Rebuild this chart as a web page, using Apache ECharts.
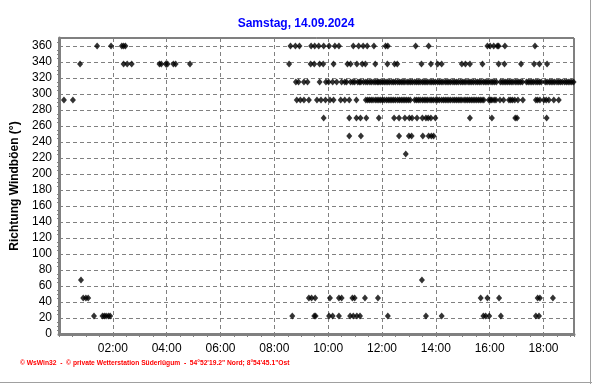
<!DOCTYPE html>
<html>
<head>
<meta charset="utf-8">
<script src="https://cdn.jsdelivr.net/npm/echarts@6/dist/echarts.min.js"></script>
<style>html,body{margin:0;padding:0;background:#fff}#c{width:592px;height:384px}</style>
</head>
<body>
<div id="c"></div>
<script>
const titleText = "Samstag, 14.09.2024";
const yAxisName = "Richtung Windböen (°)";
const footerText = "\u00A9 WsWin32  -  \u00A9 private Wetterstation Süderlügum  -  54°52'19.2\" Nord; 8°54'45.1\"Ost";

// gust directions (degrees) and the times at which each was recorded
const dir360 = ["01:25","01:56","02:20","02:24","02:28","08:36","08:47","08:56","09:22","09:30","09:39","09:50","10:02","10:15","10:24","10:56","11:08","11:18","11:27","11:42","12:08","12:13","13:15","13:44","15:55","16:01","16:09","16:17","16:20","16:34","17:41"];
const dir337 = ["00:47","02:24","02:32","02:42","03:44","03:48","03:58","04:02","04:15","04:20","04:52","08:33","09:21","09:29","09:41","09:49","10:12","10:43","10:50","11:04","11:16","11:23","11:45","12:12","12:28","12:34","13:28","13:49","14:04","14:13","14:58","15:06","15:16","15:44","16:20","16:33","17:10","17:39","17:51","18:08"];
const dir315 = ["08:48","08:54","09:06","09:14","09:41","09:55","10:01","10:10","10:19","10:30","10:37","10:41","10:50","10:55","10:59","11:06","11:10","11:13","11:19","11:24","11:28","11:33","11:37","11:42","11:46","11:50","11:53","11:57","12:01","12:05","12:09","12:13","12:17","12:22","12:26","12:30","12:35","12:39","12:43","12:47","12:51","12:56","13:00","13:04","13:08","13:13","13:17","13:21","13:25","13:30","13:34","13:38","13:42","13:47","13:51","13:55","13:59","14:04","14:08","14:12","14:16","14:21","14:25","14:29","14:33","14:38","14:42","14:46","14:50","14:55","14:59","15:03","15:07","15:12","15:16","15:20","15:24","15:29","15:33","15:37","15:41","15:46","15:50","15:54","15:58","16:03","16:07","16:11","16:15","16:24","16:28","16:32","16:36","16:40","16:44","16:48","16:52","16:57","17:01","17:05","17:09","17:13","17:22","17:26","17:30","17:34","17:38","17:43","17:47","17:51","17:55","18:04","18:08","18:13","18:17","18:21","18:25","18:30","18:34","18:38","18:42","18:47","18:51","18:55","18:59","19:03","19:07"];
const dir292 = ["00:11","00:31","08:50","08:58","09:06","09:17","09:35","09:44","09:54","10:04","10:12","10:28","10:37","10:47","11:03","11:24","11:28","11:32","11:36","11:40","11:45","11:49","11:53","11:57","12:01","12:05","12:10","12:14","12:18","12:22","12:26","12:30","12:35","12:39","12:43","12:47","12:51","12:55","12:59","13:03","13:13","13:17","13:21","13:25","13:30","13:34","13:38","13:42","13:47","13:51","13:55","14:00","14:04","14:08","14:13","14:17","14:21","14:25","14:29","14:33","14:38","14:42","14:46","14:50","14:54","14:58","15:03","15:07","15:11","15:15","15:19","15:23","15:27","15:31","15:35","15:39","15:43","15:47","15:58","16:02","16:05","16:10","16:14","16:23","16:31","16:43","16:47","16:51","16:56","17:03","17:14","17:43","17:47","17:52","18:01","18:06","18:12","18:23","18:34"];
const dir270 = ["09:50","10:47","11:03","11:12","11:25","11:53","12:27","12:38","12:51","13:01","13:07","13:18","13:30","13:38","13:43","13:49","13:59","15:16","16:05","16:57","17:01","18:07"];
const dir247 = ["10:47","11:13","12:38","13:00","13:06","13:31","13:44","13:50","13:55"];
const dir225 = ["12:53"];
const dir67 = ["00:49","13:29"];
const dir45 = ["00:54","01:00","01:05","09:17","09:23","09:31","10:04","10:24","10:30","10:54","10:59","11:22","11:51","15:40","15:55","16:21","17:47","17:52","18:21"];
const dir22 = ["01:18","01:37","01:41","01:45","01:50","01:54","08:40","09:29","09:32","10:02","10:10","10:24","10:49","10:56","11:04","11:11","12:13","13:38","14:13","15:46","15:51","15:59","16:25","17:43","17:50"];

const directionValues = [360, 337.5, 315, 292.5, 270, 247.5, 225, 67.5, 45, 22.5];
const directionTimes = [dir360, dir337, dir315, dir292, dir270, dir247, dir225, dir67, dir45, dir22];

function toMin(s){ const p = s.split(':'); return (+p[0])*60 + (+p[1]); }
const points = [];
directionValues.forEach((d, i) => directionTimes[i].forEach(t => points.push([toMin(t), d])));

function pad(n){ return (n < 10 ? '0' : '') + n; }

const chart = echarts.init(document.getElementById('c'), null, {renderer: 'canvas'});
chart.setOption({
  animation: false,
  backgroundColor: '#fff',
  title: {
    text: titleText, left: 'center', top: 13,
    textStyle: {color: '#0000ff', fontSize: 12, fontWeight: 'bold', fontFamily: 'Liberation Sans, Arial, sans-serif'}
  },
  grid: {left: 59, right: 18, top: 38, bottom: 50, show: true, borderColor: '#000', borderWidth: 1, backgroundColor: 'transparent'},
  xAxis: {
    type: 'value', min: 0, max: 1148, interval: 120,
    axisLine: {show: true, onZero: false, lineStyle: {color: '#808080', width: 3}},
    axisTick: {show: true, inside: false, length: 3, lineStyle: {color: '#808080'}},
    minorTick: {show: true, splitNumber: 4, length: 3, lineStyle: {color: '#808080'}},
    axisLabel: {
      margin: 9, color: '#000', fontSize: 12, fontFamily: 'Liberation Sans, Arial, sans-serif',
      formatter: v => (v > 0 && v % 120 === 0) ? pad(v/60) + ':00' : ''
    },
    splitLine: {show: true, lineStyle: {color: '#808080', type: [4, 3], width: 1}}
  },
  yAxis: {
    type: 'value', min: 0, max: 370, interval: 20,
    name: yAxisName, nameLocation: 'middle', nameGap: 29, nameRotate: 90,
    nameTextStyle: {color: '#000', fontSize: 12, fontWeight: 'bold', fontFamily: 'Liberation Sans, Arial, sans-serif'},
    axisLine: {show: true, onZero: false, lineStyle: {color: '#808080', width: 3}},
    axisTick: {show: false},
    minorTick: {show: true, splitNumber: 4, length: 2, lineStyle: {color: '#808080'}},
    axisLabel: {
      margin: 7, color: '#000', fontSize: 12, fontFamily: 'Liberation Sans, Arial, sans-serif',
      formatter: v => (v % 20 === 0) ? String(v) : ''
    },
    splitLine: {show: true, lineStyle: {color: '#808080', type: [4, 3], width: 1}}
  },
  series: [{
    type: 'scatter',
    data: points,
    symbol: 'diamond',
    symbolSize: [6, 7],
    itemStyle: {color: '#000'}
  }],
  graphic: [
    {type: 'text', left: 20, top: 360, style: {text: footerText, fill: '#ff0000', font: 'bold 6.7px Liberation Sans, Arial, sans-serif'}},
    {type: 'line', shape: {x1: 590.5, y1: 0, x2: 590.5, y2: 384}, style: {stroke: '#a0a0a0', lineWidth: 1}},
    {type: 'line', shape: {x1: 0, y1: 382.5, x2: 592, y2: 382.5}, style: {stroke: '#a0a0a0', lineWidth: 1}}
  ]
});
</script>
</body>
</html>
